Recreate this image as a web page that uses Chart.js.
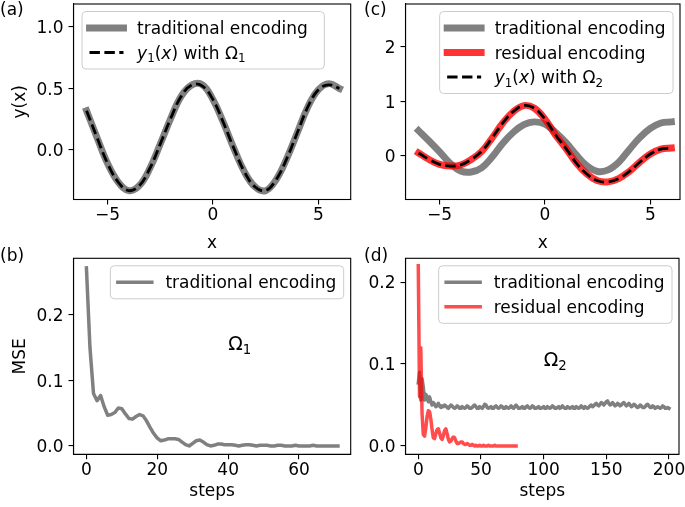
<!DOCTYPE html>
<html>
<head>
<meta charset="utf-8">
<script src="https://cdn.jsdelivr.net/npm/chart.js@4.4.0/dist/chart.umd.min.js"></script>
<style>
  html, body { margin: 0; padding: 0; background: #fff; }
  #wrap { position: relative; width: 685px; height: 507px; }
  #wrap canvas { position: absolute; left: 0; top: 0; }
</style>
</head>
<body>
<div id="wrap">
  <canvas id="pa" width="685" height="507"></canvas>
  <canvas id="pb" width="685" height="507"></canvas>
  <canvas id="pc" width="685" height="507"></canvas>
  <canvas id="pd" width="685" height="507"></canvas>
</div>
<script>
// ---- data ----
var xGrid = [-6,-5.5,-5,-4.5,-4,-3.5,-3,-2.5,-2,-1.5,-1,-0.5,0,0.5,1,1.5,2,2.5,3,3.5,4,4.5,5,5.5,6];

// (a) fit with Omega_1
var aTrad   = [0.32,0.10,-0.11,-0.26,-0.33,-0.29,-0.15,0.05,0.26,0.44,0.53,0.53,0.41,0.22,0.01,-0.18,-0.30,-0.33,-0.24,-0.07,0.14,0.35,0.49,0.54,0.50];
var aTarget = [0.32,0.10,-0.11,-0.26,-0.33,-0.29,-0.15,0.05,0.26,0.44,0.53,0.52,0.41,0.22,0.01,-0.18,-0.30,-0.33,-0.24,-0.07,0.14,0.35,0.49,0.53,0.50];

// (c) fit with Omega_2
var cTrad   = [0.46,0.27,0.07,-0.14,-0.28,-0.30,-0.22,-0.02,0.23,0.43,0.57,0.62,0.58,0.43,0.24,0.01,-0.19,-0.29,-0.26,-0.12,0.11,0.33,0.50,0.60,0.62];
var cResid  = [0.05,-0.07,-0.16,-0.19,-0.17,-0.07,0.08,0.33,0.60,0.81,0.92,0.87,0.67,0.38,0.13,-0.14,-0.34,-0.46,-0.48,-0.42,-0.29,-0.12,0.03,0.12,0.14];
var cTarget = [0.05,-0.07,-0.16,-0.19,-0.17,-0.07,0.08,0.33,0.60,0.81,0.92,0.87,0.67,0.38,0.13,-0.14,-0.34,-0.46,-0.48,-0.42,-0.29,-0.12,0.03,0.12,0.14];

// (b) MSE per step, Omega_1 (steps 0..71)
var bTrad = [
  0.272,0.150,0.080,0.069,0.077,0.060,0.047,0.048,0.051,0.058,
  0.057,0.049,0.042,0.041,0.045,0.048,0.046,0.038,0.028,0.019,
  0.012,0.008,0.009,0.011,0.011,0.011,0.010,0.006,0.002,0.000,
  0.004,0.008,0.009,0.006,0.002,0.000,0.001,0.003,0.003,0.002,
  0.002,0.002,0.001,0.000,0.001,0.002,0.002,0.001,0.000,0.001,
  0.001,0.001,0.000,0.000,0.001,0.001,0.000,0.000,0.000,0.001,
  0.000,0.000,0.000,0.000,0.001,0.000,0.000,0.000,0.000,0.000,
  0.000,0.000
];

// (d) MSE per step, Omega_2 (traditional 0..200, residual 0..78)
var dTrad = [
  0.077,0.090,0.056,0.082,0.072,0.056,0.063,0.060,0.054,0.060,0.054,
  0.050,0.053,0.051,0.048,0.049,0.052,0.049,0.047,0.049,0.048,
  0.050,0.049,0.047,0.046,0.048,0.050,0.049,0.047,0.046,0.047,
  0.049,0.048,0.046,0.046,0.048,0.047,0.046,0.047,0.049,0.048,
  0.046,0.046,0.047,0.049,0.050,0.048,0.046,0.046,0.048,0.047,
  0.046,0.048,0.051,0.050,0.047,0.046,0.047,0.048,0.046,0.046,
  0.048,0.049,0.047,0.046,0.047,0.049,0.048,0.046,0.046,0.048,
  0.047,0.046,0.047,0.049,0.047,0.046,0.048,0.050,0.048,0.046,
  0.046,0.047,0.048,0.046,0.046,0.048,0.049,0.047,0.046,0.047,
  0.049,0.048,0.046,0.046,0.047,0.048,0.046,0.046,0.047,0.048,
  0.046,0.046,0.048,0.047,0.046,0.047,0.049,0.048,0.046,0.046,
  0.047,0.048,0.046,0.047,0.049,0.047,0.046,0.046,0.048,0.047,
  0.046,0.047,0.048,0.046,0.046,0.048,0.047,0.046,0.047,0.049,
  0.047,0.046,0.048,0.047,0.046,0.047,0.049,0.050,0.048,0.049,
  0.051,0.052,0.050,0.049,0.051,0.053,0.052,0.050,0.052,0.054,
  0.055,0.052,0.050,0.051,0.053,0.051,0.049,0.050,0.052,0.051,
  0.049,0.050,0.052,0.053,0.051,0.049,0.050,0.052,0.050,0.048,
  0.049,0.051,0.050,0.048,0.047,0.048,0.050,0.049,0.047,0.047,
  0.048,0.050,0.051,0.049,0.047,0.047,0.049,0.048,0.046,0.047,
  0.048,0.047,0.046,0.047,0.049,0.048,0.046,0.046,0.047,0.046
];
var dResid = [
  0.220,0.060,0.120,0.040,0.014,0.012,0.022,0.036,0.043,0.042,
  0.033,0.020,0.010,0.009,0.015,0.020,0.021,0.016,0.010,0.008,
  0.013,0.019,0.021,0.015,0.008,0.005,0.006,0.009,0.011,0.010,
  0.006,0.003,0.003,0.004,0.005,0.005,0.003,0.002,0.002,0.003,
  0.002,0.001,0.001,0.002,0.001,0.000,0.001,0.000,0.000,0.001,
  0.000,0.000,0.001,0.000,0.000,0.000,0.001,0.000,0.000,0.000,
  0.000,0.001,0.000,0.000,0.000,0.000,0.000,0.000,0.000,0.000,
  0.000,0.000,0.000,0.000,0.000,0.000,0.000,0.000,0.000
];

// ticks
var xTicksAC = [-5, 0, 5],          xLabelsAC = ['\u22125', '0', '5'];
var aYTicks  = [0, 0.5, 1],         aYLabels  = ['0.0', '0.5', '1.0'];
var cYTicks  = [0, 1, 2],           cYLabels  = ['0', '1', '2'];
var bXTicks  = [0, 20, 40, 60],     bXLabels  = ['0', '20', '40', '60'];
var dXTicks  = [0, 50, 100, 150, 200], dXLabels = ['0', '50', '100', '150', '200'];
var mseTicks = [0, 0.1, 0.2],       mseLabels = ['0.0', '0.1', '0.2'];

// ---- helpers ----
var FONT = "'DejaVu Sans', sans-serif";
var FS = 17;
var GRAY = '#808080';
Chart.defaults.font.family = FONT;
Chart.defaults.font.size = FS;
Chart.defaults.color = '#000';

function onGrid(ys) { return ys.map(function (y, i) { return {x: xGrid[i], y: y}; }); }
function bySteps(ys) { return ys.map(function (y, i) { return {x: i, y: y}; }); }

function drawRich(ctx, parts, x, y, fs, measureOnly) {
  var x0 = x;
  parts.forEach(function (p) {
    var size = p.sub ? fs * 0.7 : fs;
    ctx.font = (p.it ? 'italic ' : '') + size + 'px ' + FONT;
    if (!measureOnly) ctx.fillText(p.t, x, y + (p.sub ? fs * 0.22 : 0));
    x += ctx.measureText(p.t).width;
  });
  return x - x0;
}

function axis(min, max, ticks, labels, title, size, isX) {
  return {
    type: 'linear', min: min, max: max,
    afterBuildTicks: function (s) { s.ticks = ticks.map(function (v) { return {value: v}; }); },
    afterFit: function (s) {
      if (isX) s.height = size; else s.width = size;
      s.paddingLeft = s.paddingRight = s.paddingTop = s.paddingBottom = 0;
    },
    ticks: {
      autoSkip: false, maxRotation: 0, minRotation: 0, padding: isX ? 1 : 5, color: '#000',
      labelOffset: isX ? 0 : 2,
      font: {size: FS}, callback: function (v, i) { return labels[i]; }
    },
    grid: { drawOnChartArea: false, drawTicks: true, tickLength: 5, color: '#000', lineWidth: 1.1 },
    border: { display: true, color: '#000', width: 1.1 },
    title: title ? { display: true, text: title, color: '#000', font: {size: FS},
                     padding: isX ? {top: 0, bottom: 0} : {top: 10, bottom: 0} } : { display: false }
  };
}

var frame = {
  id: 'frame',
  afterDraw: function (chart) {
    var a = chart.chartArea, ctx = chart.ctx;
    ctx.save();
    ctx.strokeStyle = '#000';
    ctx.lineWidth = 1.1;
    ctx.strokeRect(a.left, a.top, a.right - a.left, a.bottom - a.top);
    ctx.restore();
  }
};

function mplLegend(loc, extra) {
  return {
    id: 'mplLegend',
    afterDraw: function (chart) {
      var ctx = chart.ctx, a = chart.chartArea, sets = chart.data.datasets;
      ctx.save();
      var maxW = 0;
      sets.forEach(function (ds) { maxW = Math.max(maxW, drawRich(ctx, ds.rich, 0, 0, FS, true)); });
      var w = 7.5 + 34 + 13.6 + maxW + 7.5 + (extra || 0);
      var h = 33 + (sets.length - 1) * 24.5;
      var x0 = loc === 'ul' ? a.left + 8.5 : a.right - 7 - w;
      var y0 = a.top + 7.5;
      ctx.beginPath();
      ctx.roundRect(x0, y0, w, h, 4);
      ctx.fillStyle = 'rgba(255,255,255,0.8)';
      ctx.fill();
      ctx.strokeStyle = '#cccccc';
      ctx.lineWidth = 1;
      ctx.stroke();
      sets.forEach(function (ds, i) {
        var cy = y0 + 16.5 + i * 24.5;
        ctx.beginPath();
        ctx.strokeStyle = ds.borderColor;
        ctx.lineWidth = ds.borderWidth;
        ctx.setLineDash(ds.borderDash || []);
        ctx.lineCap = ds.borderCapStyle || 'butt';
        ctx.moveTo(x0 + 7.5, cy);
        ctx.lineTo(x0 + 41.5, cy);
        ctx.stroke();
        ctx.setLineDash([]);
        ctx.fillStyle = '#000';
        drawRich(ctx, ds.rich, x0 + 55.1, cy + 6, FS);
      });
      ctx.restore();
    }
  };
}

function panelText(tag, tx, ty, note) {
  return {
    id: 'panelText',
    afterDraw: function (chart) {
      var ctx = chart.ctx;
      ctx.save();
      ctx.fillStyle = '#000';
      ctx.font = FS + 'px ' + FONT;
      ctx.fillText(tag, tx, ty);
      if (note) {
        var px = chart.scales.x.getPixelForValue(note.x);
        var py = chart.scales.y.getPixelForValue(note.y);
        drawRich(ctx, note.parts, px, py + 2, 19);
      }
      ctx.restore();
    }
  };
}

function makePanel(id, box, scales, datasets, plugins) {
  var YW = 73.5;
  return new Chart(document.getElementById(id), {
    type: 'line',
    data: { datasets: datasets },
    options: {
      responsive: false, animation: false, events: [], devicePixelRatio: 1,
      layout: { padding: { left: box.l - YW, top: box.t, right: 685 - box.r, bottom: 507 - box.b - box.xh } },
      elements: { point: { radius: 0 } },
      plugins: { legend: { display: false }, tooltip: { enabled: false } },
      scales: scales
    },
    plugins: [frame].concat(plugins)
  });
}

var plain = function (t) { return [{t: t}]; };
var y1With = function (n) { return [{t: 'y', it: 1}, {t: '1', sub: 1}, {t: '('}, {t: 'x', it: 1}, {t: ') with \u03A9'}, {t: n, sub: 1}]; };

// ---- (a) ----
makePanel('pa', {l: 73.5, t: 4, r: 350.7, b: 199.5, xh: 54}, {
  x: axis(-6.62, 6.535, xTicksAC, xLabelsAC, 'x', 54, true),
  y: axis(-0.402, 1.187, aYTicks, aYLabels, 'y(x)', 73.5, false)
}, [
  { label: 'traditional encoding', rich: plain('traditional encoding'), data: onGrid(aTrad),
    borderColor: GRAY, borderWidth: 6.9, borderCapStyle: 'square', borderJoinStyle: 'round', tension: 0.4, order: 2 },
  { label: 'y\u2081(x) with \u03A9\u2081', rich: y1With('1'), data: onGrid(aTarget),
    borderColor: '#000', borderWidth: 2.8, borderDash: [10.4, 4.5], tension: 0.4, order: 1 }
], [mplLegend('ul', 9), panelText('(a)', 0, 15)]);

// ---- (b) ----
makePanel('pb', {l: 73.5, t: 258.3, r: 350.7, b: 454.3, xh: 47.5}, {
  x: axis(-3.65, 74.6, bXTicks, bXLabels, 'steps', 47.5, true),
  y: axis(-0.0127, 0.2866, mseTicks, mseLabels, 'MSE', 73.5, false)
}, [
  { label: 'traditional encoding', rich: plain('traditional encoding'), data: bySteps(bTrad),
    borderColor: GRAY, borderWidth: 3.5, borderCapStyle: 'square', borderJoinStyle: 'round', tension: 0 }
], [mplLegend('ur'), panelText('(b)', 0, 261, {x: 40, y: 0.15, parts: [{t: '\u03A9'}, {t: '1', sub: 1}]})]);

// ---- (c) ----
makePanel('pc', {l: 405.5, t: 4, r: 680, b: 199.5, xh: 54}, {
  x: axis(-6.62, 6.41, xTicksAC, xLabelsAC, 'x', 54, true),
  y: axis(-0.804, 2.783, cYTicks, cYLabels, null, 73.5, false)
}, [
  { label: 'traditional encoding', rich: plain('traditional encoding'), data: onGrid(cTrad),
    borderColor: GRAY, borderWidth: 6.9, borderCapStyle: 'square', borderJoinStyle: 'round', tension: 0.4, order: 3 },
  { label: 'residual encoding', rich: plain('residual encoding'), data: onGrid(cResid),
    borderColor: 'rgba(255,0,0,0.8)', borderWidth: 6.9, borderCapStyle: 'square', borderJoinStyle: 'round', tension: 0.4, order: 2 },
  { label: 'y\u2081(x) with \u03A9\u2082', rich: y1With('2'), data: onGrid(cTarget),
    borderColor: '#000', borderWidth: 2.8, borderDash: [10.4, 4.5], tension: 0.4, order: 1 }
], [mplLegend('ur'), panelText('(c)', 364, 15)]);

// ---- (d) ----
makePanel('pd', {l: 405.5, t: 258.3, r: 679, b: 454.3, xh: 47.5}, {
  x: axis(-10.2, 208, dXTicks, dXLabels, 'steps', 47.5, true),
  y: axis(-0.0101, 0.229, mseTicks, mseLabels, null, 73.5, false)
}, [
  { label: 'traditional encoding', rich: plain('traditional encoding'), data: bySteps(dTrad),
    borderColor: GRAY, borderWidth: 3.5, borderCapStyle: 'square', borderJoinStyle: 'round', tension: 0, order: 2 },
  { label: 'residual encoding', rich: plain('residual encoding'), data: bySteps(dResid),
    borderColor: 'rgba(255,0,0,0.7)', borderWidth: 3.5, borderCapStyle: 'square', borderJoinStyle: 'round', tension: 0, order: 1 }
], [mplLegend('ur'), panelText('(d)', 364, 261, {x: 100, y: 0.1, parts: [{t: '\u03A9'}, {t: '2', sub: 1}]})]);
</script>
</body>
</html>
